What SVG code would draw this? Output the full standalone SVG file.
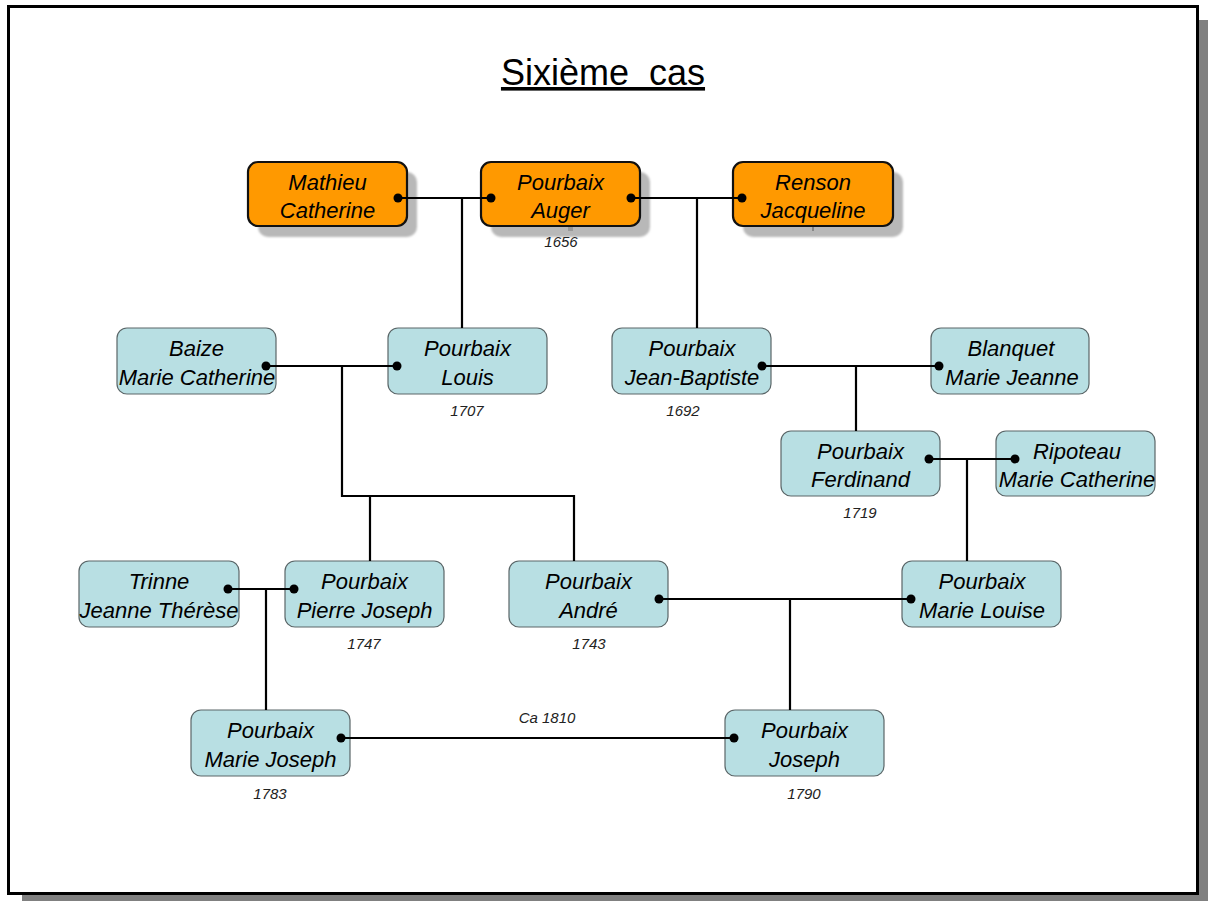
<svg xmlns="http://www.w3.org/2000/svg" width="1208" height="901" viewBox="0 0 1208 901">
  <style>
    .name { font-family: "Liberation Sans", Arial, sans-serif; font-style: italic; font-size: 22px; fill: #000; text-anchor: middle; }
    .year { font-family: "Liberation Sans", Arial, sans-serif; font-style: italic; font-size: 15px; fill: #222; text-anchor: middle; }
    .title { font-family: "Liberation Sans", Arial, sans-serif; font-size: 36px; fill: #000; text-anchor: middle; text-decoration: underline; }
    .anc { fill: #FF9900; stroke: #111; stroke-width: 2.2; }
    .desc { fill: #B8DFE3; stroke: #5a6668; stroke-width: 1.2; }
    .shadow { fill: #b8b8b8; filter: url(#soft); }
    .link { stroke: #000; stroke-width: 2.2; fill: none; }
    .dot { fill: #000; }
  </style>
  <defs>
    <filter id="soft" x="-10%" y="-10%" width="120%" height="120%">
      <feGaussianBlur stdDeviation="1.2"/>
    </filter>
  </defs>

  <!-- page frame with drop shadow -->
  <rect x="22" y="20" width="1186" height="881" fill="#808080"/>
  <rect x="8.5" y="6.5" width="1189" height="887" fill="#fff" stroke="#000" stroke-width="3"/>

  <text class="title" x="603" y="85" xml:space="preserve">Sixième  cas</text>

  <!-- ancestors -->
  <g id="mathieu-catherine">
    <rect class="shadow" x="258" y="172" width="159" height="65" rx="10"/>
    <rect class="anc" x="248" y="162" width="159" height="64" rx="10"/>
    <text class="name" x="327.5" y="190">Mathieu</text>
    <text class="name" x="327.5" y="218">Catherine</text>
    <circle class="dot" cx="398" cy="198" r="4.5"/>
  </g>
  <g id="pourbaix-auger">
    <rect class="shadow" x="491" y="172" width="159" height="65" rx="10"/>
    <rect x="568" y="226" width="5" height="5" fill="#999"/>
    <rect class="anc" x="481" y="162" width="159" height="64" rx="10"/>
    <text class="name" x="560.5" y="190">Pourbaix</text>
    <text class="name" x="560.5" y="218">Auger</text>
    <circle class="dot" cx="491" cy="198" r="4.5"/>
    <circle class="dot" cx="631" cy="198" r="4.5"/>
    <text class="year" x="561" y="247">1656</text>
  </g>
  <g id="renson-jacqueline">
    <rect class="shadow" x="743" y="172" width="160" height="65" rx="10"/>
    <rect x="812" y="226" width="2" height="5" fill="#888"/>
    <rect class="anc" x="733" y="162" width="160" height="64" rx="10"/>
    <text class="name" x="813" y="190">Renson</text>
    <text class="name" x="813" y="218">Jacqueline</text>
    <circle class="dot" cx="742" cy="198" r="4.5"/>
  </g>

  <!-- second generation -->
  <g id="baize-marie-catherine">
    <rect class="desc" x="117" y="328" width="159" height="66" rx="10"/>
    <text class="name" x="196.5" y="356">Baize</text>
    <text class="name" x="197" y="385">Marie Catherine</text>
    <circle class="dot" cx="266" cy="366" r="4.5"/>
  </g>
  <g id="pourbaix-louis">
    <rect class="desc" x="388" y="328" width="159" height="66" rx="10"/>
    <text class="name" x="467.5" y="356">Pourbaix</text>
    <text class="name" x="467.5" y="385">Louis</text>
    <circle class="dot" cx="397" cy="366" r="4.5"/>
    <text class="year" x="467" y="416">1707</text>
  </g>
  <g id="pourbaix-jean-baptiste">
    <rect class="desc" x="612" y="328" width="159" height="66" rx="10"/>
    <text class="name" x="692" y="356">Pourbaix</text>
    <text class="name" x="692" y="385">Jean-Baptiste</text>
    <circle class="dot" cx="762" cy="366" r="4.5"/>
    <text class="year" x="683" y="416">1692</text>
  </g>
  <g id="blanquet-marie-jeanne">
    <rect class="desc" x="931" y="328" width="158" height="66" rx="10"/>
    <text class="name" x="1011" y="356">Blanquet</text>
    <text class="name" x="1012" y="385">Marie Jeanne</text>
    <circle class="dot" cx="939" cy="366" r="4.5"/>
  </g>

  <!-- third generation -->
  <g id="pourbaix-ferdinand">
    <rect class="desc" x="781" y="431" width="159" height="65" rx="10"/>
    <text class="name" x="860.5" y="459">Pourbaix</text>
    <text class="name" x="860.5" y="487">Ferdinand</text>
    <circle class="dot" cx="929" cy="459" r="4.5"/>
    <text class="year" x="860" y="518">1719</text>
  </g>
  <g id="ripoteau-marie-catherine">
    <rect class="desc" x="996" y="431" width="159" height="65" rx="10"/>
    <text class="name" x="1077" y="459">Ripoteau</text>
    <text class="name" x="1077" y="487">Marie Catherine</text>
    <circle class="dot" cx="1015" cy="459" r="4.5"/>
  </g>

  <!-- fourth generation -->
  <g id="trinne-jeanne-therese">
    <rect class="desc" x="79" y="561" width="160" height="66" rx="10"/>
    <text class="name" x="159" y="589">Trinne</text>
    <text class="name" x="159" y="618">Jeanne Thérèse</text>
    <circle class="dot" cx="228" cy="589" r="4.5"/>
  </g>
  <g id="pourbaix-pierre-joseph">
    <rect class="desc" x="285" y="561" width="159" height="66" rx="10"/>
    <text class="name" x="364.5" y="589">Pourbaix</text>
    <text class="name" x="364.5" y="618">Pierre Joseph</text>
    <circle class="dot" cx="294" cy="589" r="4.5"/>
    <text class="year" x="364" y="649">1747</text>
  </g>
  <g id="pourbaix-andre">
    <rect class="desc" x="509" y="561" width="159" height="66" rx="10"/>
    <text class="name" x="588.5" y="589">Pourbaix</text>
    <text class="name" x="588.5" y="618">André</text>
    <circle class="dot" cx="659" cy="599" r="4.5"/>
    <text class="year" x="589" y="649">1743</text>
  </g>
  <g id="pourbaix-marie-louise">
    <rect class="desc" x="902" y="561" width="159" height="66" rx="10"/>
    <text class="name" x="982" y="589">Pourbaix</text>
    <text class="name" x="982" y="618">Marie Louise</text>
    <circle class="dot" cx="911" cy="599" r="4.5"/>
  </g>

  <!-- fifth generation -->
  <g id="pourbaix-marie-joseph">
    <rect class="desc" x="191" y="710" width="159" height="66" rx="10"/>
    <text class="name" x="270.5" y="738">Pourbaix</text>
    <text class="name" x="270.5" y="767">Marie Joseph</text>
    <circle class="dot" cx="341" cy="738" r="4.5"/>
    <text class="year" x="270" y="799">1783</text>
  </g>
  <g id="pourbaix-joseph">
    <rect class="desc" x="725" y="710" width="159" height="66" rx="10"/>
    <text class="name" x="804.5" y="738">Pourbaix</text>
    <text class="name" x="804.5" y="767">Joseph</text>
    <circle class="dot" cx="734" cy="738" r="4.5"/>
    <text class="year" x="804" y="799">1790</text>
  </g>

  <!-- connectors, drawn over the boxes from dot to dot -->
  <g id="connectors">
    <path class="link" d="M398 198 H491 M462 198 V328"/>
    <path class="link" d="M631 198 H742 M697 198 V328"/>
    <path class="link" d="M266 366 H397 M342 366 V496 H574 V561 M370 496 V561"/>
    <path class="link" d="M762 366 H939 M856 366 V431"/>
    <path class="link" d="M929 459 H1015 M967 459 V561"/>
    <path class="link" d="M228 589 H294 M266 589 V710"/>
    <path class="link" d="M659 599 H911 M790 599 V710"/>
    <path class="link" d="M341 738 H734"/>
  </g>

  <text class="year" x="547" y="723">Ca 1810</text>
</svg>
